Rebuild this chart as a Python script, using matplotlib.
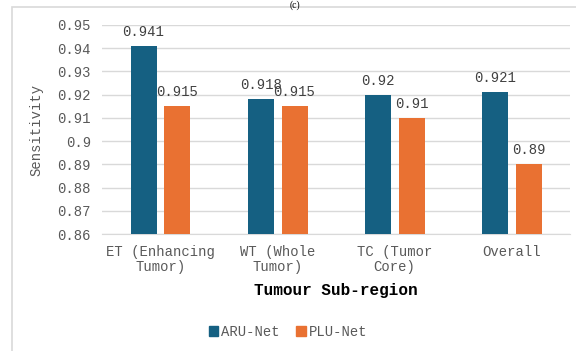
import matplotlib.pyplot as plt
import numpy as np
from matplotlib.patches import Patch, Rectangle

categories = ['ET (Enhancing\nTumor)', 'WT (Whole\nTumor)', 'TC (Tumor\nCore)', 'Overall']
aru_net = [0.941, 0.918, 0.92, 0.921]
plu_net = [0.915, 0.915, 0.91, 0.89]
aru_labels = ['0.941', '0.918', '0.92', '0.921']
plu_labels = ['0.915', '0.915', '0.91', '0.89']

BLUE = '#156082'
ORANGE = '#E97132'
GRID = '#d9d9d9'
TEXT = '#595959'
FONT = 'Liberation Mono'

plt.rcParams['font.family'] = FONT

fig = plt.figure(figsize=(5.76, 3.51), dpi=100)
ax = fig.add_axes([0.177, 0.333, 0.813, 0.596])

x = np.arange(len(categories))
w = 0.222
off = 0.145
b1 = ax.bar(x - off, np.array(aru_net) - 0.86, w, bottom=0.86, color=BLUE, zorder=3)
b2 = ax.bar(x + off, np.array(plu_net) - 0.86, w, bottom=0.86, color=ORANGE, zorder=3)

for bars, labels in ((b1, aru_labels), (b2, plu_labels)):
    for rect, lab in zip(bars, labels):
        ax.annotate(lab, (rect.get_x() + rect.get_width() / 2, rect.get_y() + rect.get_height()),
                    xytext=(0, 5), textcoords='offset points', ha='center', va='bottom',
                    fontsize=10, color='#404040', annotation_clip=False, zorder=4)

ax.set_xlim(-0.5, 3.5)
ax.set_ylim(0.86, 0.95)
yt = np.round(np.arange(0.86, 0.951, 0.01), 2)
ax.set_yticks(yt)
ax.set_yticklabels([f'{v:g}' for v in yt], fontsize=10, color=TEXT)
ax.set_xticks(x)
ax.set_xticklabels(categories, fontsize=10, color=TEXT, linespacing=1.1)
ax.tick_params(length=0, pad=8)
ax.tick_params(axis='x', pad=8)
ax.yaxis.grid(True, color=GRID, lw=1, zorder=0)
for s in ['top', 'right', 'left']:
    ax.spines[s].set_visible(False)
ax.spines['bottom'].set_color(GRID)
ax.spines['bottom'].set_zorder(1)

ax.set_xlabel('Tumour Sub-region', fontsize=11.5, fontweight='bold', color='black', labelpad=6)
ax.set_ylabel('Sensitivity', fontsize=10, color=TEXT, labelpad=10)

handles = [Patch(color=BLUE, label='ARU-Net'), Patch(color=ORANGE, label='PLU-Net')]
fig.legend(handles=handles, loc='center', bbox_to_anchor=(0.5, 1 - 332 / 351), ncol=2,
           frameon=False, fontsize=10, handlelength=0.7, handleheight=0.7,
           handletextpad=0.2, columnspacing=1.2, labelcolor=TEXT)

# chart border (cropped on the right and bottom)
fig.patches.append(Rectangle((12 / 576, -0.05), 1.0, 1.05 - 7 / 351, transform=fig.transFigure,
                             fill=False, edgecolor=GRID, lw=1.2))
fig.text(0.512, 1.0, '(c)', ha='center', va='top', fontsize=7,
         family='Liberation Serif', color='black')

fig.savefig('out.png', dpi=100)
